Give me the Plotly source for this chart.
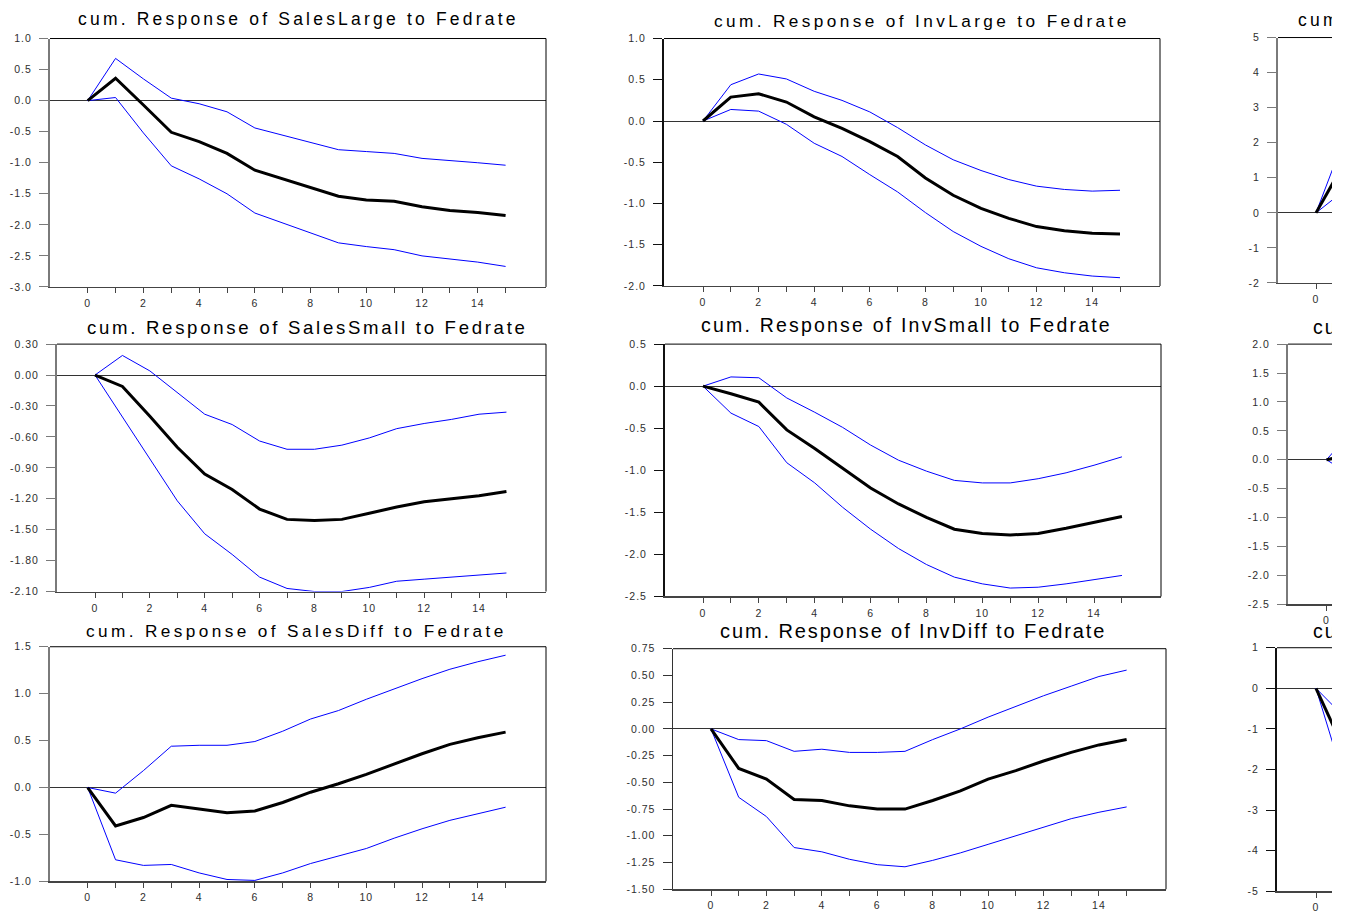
import plotly.graph_objects as go

W, H = 1332, 913

periods = list(range(16))
edge_periods = [0, 1]

# Cumulative impulse responses to a Fedrate shock: median and error bands
sales_large_mid = [0, 0.36, -0.07, -0.51, -0.66, -0.85, -1.12, -1.26, -1.41, -1.54, -1.60, -1.62, -1.71, -1.77, -1.80, -1.85]
sales_large_hi = [0, 0.68, 0.35, 0.04, -0.05, -0.18, -0.44, -0.56, -0.68, -0.79, -0.82, -0.85, -0.93, -0.96, -1.00, -1.04]
sales_large_lo = [0, 0.05, -0.52, -1.05, -1.26, -1.50, -1.81, -1.97, -2.14, -2.29, -2.35, -2.40, -2.50, -2.55, -2.60, -2.67]

inv_large_mid = [0, 0.29, 0.33, 0.23, 0.05, -0.09, -0.25, -0.43, -0.69, -0.90, -1.06, -1.18, -1.28, -1.33, -1.36, -1.37]
inv_large_hi = [0, 0.44, 0.57, 0.51, 0.36, 0.25, 0.11, -0.08, -0.29, -0.47, -0.60, -0.71, -0.79, -0.83, -0.85, -0.84]
inv_large_lo = [0, 0.14, 0.12, -0.04, -0.27, -0.43, -0.65, -0.86, -1.11, -1.34, -1.52, -1.67, -1.78, -1.84, -1.88, -1.90]

col3_top_mid = [0, 1.41]
col3_top_hi = [0, 2.10]
col3_top_lo = [0, 0.63]

sales_small_mid = [0, -0.11, -0.40, -0.70, -0.96, -1.11, -1.30, -1.40, -1.41, -1.40, -1.34, -1.28, -1.23, -1.20, -1.17, -1.13]
sales_small_hi = [0, 0.19, 0.04, -0.17, -0.38, -0.48, -0.64, -0.72, -0.72, -0.68, -0.61, -0.52, -0.47, -0.43, -0.38, -0.36]
sales_small_lo = [0, -0.41, -0.82, -1.22, -1.54, -1.74, -1.96, -2.07, -2.10, -2.10, -2.06, -2.00, -1.98, -1.96, -1.94, -1.92]

inv_small_mid = [0, -0.09, -0.19, -0.52, -0.74, -0.98, -1.21, -1.40, -1.56, -1.70, -1.75, -1.77, -1.75, -1.69, -1.62, -1.55]
inv_small_hi = [0, 0.11, 0.10, -0.14, -0.31, -0.49, -0.70, -0.88, -1.01, -1.12, -1.15, -1.15, -1.10, -1.03, -0.94, -0.84]
inv_small_lo = [0, -0.32, -0.48, -0.91, -1.15, -1.44, -1.70, -1.93, -2.12, -2.27, -2.35, -2.40, -2.39, -2.35, -2.30, -2.25]

col3_mid_mid = [0, 0.10]
col3_mid_hi = [0, 0.55]
col3_mid_lo = [0, -0.30]

sales_diff_mid = [0, -0.41, -0.32, -0.19, -0.23, -0.27, -0.25, -0.16, -0.05, 0.04, 0.14, 0.25, 0.36, 0.46, 0.53, 0.59]
sales_diff_hi = [0, -0.06, 0.18, 0.44, 0.45, 0.45, 0.49, 0.60, 0.73, 0.82, 0.94, 1.05, 1.16, 1.26, 1.34, 1.41]
sales_diff_lo = [0, -0.77, -0.83, -0.82, -0.91, -0.98, -0.99, -0.91, -0.81, -0.73, -0.65, -0.54, -0.44, -0.35, -0.28, -0.21]

inv_diff_mid = [0, -0.37, -0.47, -0.66, -0.67, -0.72, -0.75, -0.75, -0.67, -0.58, -0.47, -0.39, -0.30, -0.22, -0.15, -0.10]
inv_diff_hi = [0, -0.10, -0.11, -0.21, -0.19, -0.22, -0.22, -0.21, -0.10, 0.00, 0.11, 0.21, 0.31, 0.40, 0.49, 0.55]
inv_diff_lo = [0, -0.64, -0.82, -1.11, -1.15, -1.22, -1.27, -1.29, -1.23, -1.16, -1.08, -1.00, -0.92, -0.84, -0.78, -0.73]

col3_bot_mid = [0, -1.50]
col3_bot_hi = [0, -0.70]
col3_bot_lo = [0, -2.26]

# Tick values
xtick_major = [0, 2, 4, 6, 8, 10, 12, 14]
xtick_minor = [1, 3, 5, 7, 9, 11, 13, 15]
ytick_sales_large = [1.0, 0.5, 0.0, -0.5, -1.0, -1.5, -2.0, -2.5, -3.0]
ytick_inv_large = [1.0, 0.5, 0.0, -0.5, -1.0, -1.5, -2.0]
ytick_col3_top = [5, 4, 3, 2, 1, 0, -1, -2]
ytick_sales_small = [0.30, 0.00, -0.30, -0.60, -0.90, -1.20, -1.50, -1.80, -2.10]
ytick_inv_small = [0.5, 0.0, -0.5, -1.0, -1.5, -2.0, -2.5]
ytick_col3_mid = [2.0, 1.5, 1.0, 0.5, 0.0, -0.5, -1.0, -1.5, -2.0, -2.5]
ytick_sales_diff = [1.5, 1.0, 0.5, 0.0, -0.5, -1.0]
ytick_inv_diff = [0.75, 0.50, 0.25, 0.00, -0.25, -0.50, -0.75, -1.00, -1.25, -1.50]
ytick_col3_bot = [1, 0, -1, -2, -3, -4, -5]

FONT = "Liberation Sans, Arial, sans-serif"
GRAY_AXIS = "#7a7a7a"
DARK_AXIS = "#111111"
TICK_SPACING = 1.0

# Panel geometry in pixels: box = (left, top, right, bottom), x0 = pixel of period 0, unit = px per period
panels = [
    dict(x=periods, mid=sales_large_mid, hi=sales_large_hi, lo=sales_large_lo, yt=ytick_sales_large, dec=1,
         box=(50, 33, 546, 285), x0=87.7, unit=27.86, edge=False, ycol=GRAY_AXIS, yw=2,
         title="cum. Response of SalesLarge to Fedrate", tx=298, ty=13.5, ts=17.5, tl=3.2, ta="center"),
    dict(x=periods, mid=inv_large_mid, hi=inv_large_hi, lo=inv_large_lo, yt=ytick_inv_large, dec=1,
         box=(664, 33, 1160, 284), x0=703, unit=27.8, edge=False, ycol=DARK_AXIS, yw=2,
         title="cum. Response of InvLarge to Fedrate", tx=922, ty=15.5, ts=17.2, tl=3.4, ta="center"),
    dict(x=edge_periods, mid=col3_top_mid, hi=col3_top_hi, lo=col3_top_lo, yt=ytick_col3_top, dec=0,
         box=(1278, 32, 1332, 281), x0=1316, unit=28, edge=True, ycol=GRAY_AXIS, yw=2,
         title="cum. Response", tx=1296, ty=14, ts=17.5, tl=3.3, ta="left"),
    dict(x=periods, mid=sales_small_mid, hi=sales_small_hi, lo=sales_small_lo, yt=ytick_sales_small, dec=2,
         box=(57, 343, 546, 594), x0=95, unit=27.43, edge=False, ycol=GRAY_AXIS, yw=2,
         title="cum. Response of SalesSmall to Fedrate", tx=307, ty=326, ts=18.6, tl=2.7, ta="center"),
    dict(x=periods, mid=inv_small_mid, hi=inv_small_hi, lo=inv_small_lo, yt=ytick_inv_small, dec=1,
         box=(665, 343, 1161, 599), x0=703, unit=27.93, edge=False, ycol=DARK_AXIS, yw=2,
         title="cum. Response of InvSmall to Fedrate", tx=906, ty=323.7, ts=19.5, tl=2.2, ta="center"),
    dict(x=edge_periods, mid=col3_mid_mid, hi=col3_mid_hi, lo=col3_mid_lo, yt=ytick_col3_mid, dec=1,
         box=(1288, 343, 1332, 607), x0=1326.5, unit=28, edge=True, ycol=GRAY_AXIS, yw=2,
         title="cum. Response", tx=1311, ty=326, ts=19.5, tl=2.0, ta="left"),
    dict(x=periods, mid=sales_diff_mid, hi=sales_diff_hi, lo=sales_diff_lo, yt=ytick_sales_diff, dec=1,
         box=(50, 650, 546, 888), x0=87.7, unit=27.86, edge=False, ycol=GRAY_AXIS, yw=2,
         title="cum. Response of SalesDiff to Fedrate", tx=296.5, ty=634.5, ts=17.2, tl=3.4, ta="center"),
    dict(x=periods, mid=inv_diff_mid, hi=inv_diff_hi, lo=inv_diff_lo, yt=ytick_inv_diff, dec=2,
         box=(673, 652, 1166, 896), x0=711, unit=27.71, edge=False, ycol="#333333", yw=1.5,
         title="cum. Response of InvDiff to Fedrate", tx=913, ty=634.5, ts=20, tl=1.9, ta="center"),
    dict(x=edge_periods, mid=col3_bot_mid, hi=col3_bot_hi, lo=col3_bot_lo, yt=ytick_col3_bot, dec=0,
         box=(1277, 651, 1332, 898), x0=1316, unit=28, edge=True, ycol=DARK_AXIS, yw=2,
         title="cum. Response", tx=1311, ty=634, ts=19.5, tl=2.0, ta="left"),
]


def spaced(text, px):
    return f'<span style="letter-spacing:{px}px">{text}</span>'


def fmt(v, dec):
    return spaced(f"{v:.{dec}f}", TICK_SPACING)


fig = go.Figure()
layout = dict(
    width=W, height=H, autosize=False,
    margin=dict(l=0, r=0, t=0, b=0, pad=0),
    paper_bgcolor="white", plot_bgcolor="white",
    showlegend=False, hovermode=False,
    font=dict(family=FONT, color="#333333", size=10),
)
shapes = []
annotations = []
tick_font = dict(size=10.5, color="#2e2e2e", family=FONT)

for i, p in enumerate(panels, start=1):
    sfx = "" if i == 1 else str(i)
    xa, ya = f"x{sfx}", f"y{sfx}"
    left, top, right, bottom = p["box"]
    xr = [(left - p["x0"]) / p["unit"], (right - p["x0"]) / p["unit"]]
    yt = p["yt"]

    for series, color, width in ((p["hi"], "#0000ff", 1), (p["lo"], "#0000ff", 1), (p["mid"], "#000000", 3)):
        fig.add_trace(go.Scatter(x=p["x"], y=series, mode="lines", xaxis=xa, yaxis=ya,
                                 line=dict(color=color, width=width), cliponaxis=True))

    layout[f"xaxis{sfx}"] = dict(
        domain=[left / W, right / W], anchor=ya, range=xr,
        showgrid=False, zeroline=False, showline=True, linecolor="#444444", linewidth=1.5,
        tickmode="array", tickvals=xtick_major, ticktext=[spaced(str(v), TICK_SPACING) for v in xtick_major],
        ticks="outside", ticklen=5, tickwidth=1, tickcolor="#444444",
        tickfont=tick_font, ticklabelstandoff=1,
        minor=dict(tickmode="array", tickvals=xtick_minor, ticks="outside", ticklen=5,
                   tickwidth=1, tickcolor="#444444", showgrid=False),
        fixedrange=True,
    )
    layout[f"yaxis{sfx}"] = dict(
        domain=[1 - bottom / H, 1 - top / H], anchor=xa, range=[min(yt), max(yt)],
        showgrid=False, zeroline=True, zerolinecolor="#333333", zerolinewidth=1,
        showline=True, linecolor=p["ycol"], linewidth=p["yw"],
        tickmode="array", tickvals=yt, ticktext=[fmt(v, p["dec"]) for v in yt],
        ticks="outside", ticklen=9, tickwidth=1, tickcolor=p["ycol"],
        tickfont=tick_font, ticklabelstandoff=5,
        fixedrange=True,
    )

    # frame: top edge always, right edge only for complete panels
    shapes.append(dict(type="line", xref=f"{xa} domain", yref=f"{ya} domain", x0=0, x1=1, y0=1, y1=1,
                       line=dict(color="#000000", width=1), layer="above"))
    if not p["edge"]:
        shapes.append(dict(type="line", xref=f"{xa} domain", yref=f"{ya} domain", x0=1, x1=1, y0=0, y1=1,
                           line=dict(color="#000000", width=1), layer="above"))

    annotations.append(dict(
        text=spaced(p["title"], p["tl"]),
        xref="paper", yref="paper", x=p["tx"] / W, y=1 - p["ty"] / H,
        xanchor=p["ta"], yanchor="middle", showarrow=False,
        font=dict(family=FONT, size=p["ts"], color="#000000"),
    ))

layout["shapes"] = shapes
layout["annotations"] = annotations
fig.update_layout(**layout)
fig.write_html("out.html", config={"displayModeBar": False, "staticPlot": True})
